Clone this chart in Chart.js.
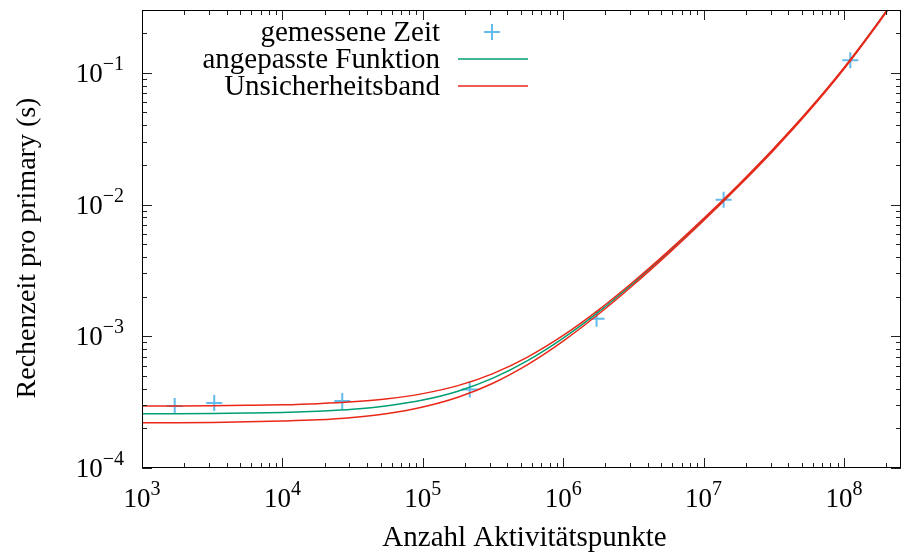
<!DOCTYPE html>
<html>
<head>
<meta charset="utf-8">
<script src="https://cdn.jsdelivr.net/npm/chart.js@4"></script>
<style>
    html, body { margin: 0; padding: 0; background: #fff; }
</style>
</head>
<body>
<canvas id="fitChart" width="911" height="556"></canvas>
<script>
// Measured runtime per primary against number of activity points
const measuredN = [1.71e3, 3.27e3, 2.67e4, 2.16e5, 1.73e6, 1.39e7, 1.11e8];
const measuredT = [2.95e-4, 3.11e-4, 3.22e-4, 3.94e-4, 1.36e-3, 1.09e-2, 0.1246];

// Fitted function and its uncertainty band, sampled every quarter decade
const curveN = [1e3, 1.78e3, 3.16e3, 5.62e3, 1e4, 1.78e4, 3.16e4, 5.62e4, 1e5, 1.78e5, 3.16e5, 5.62e5,
                1e6, 1.78e6, 3.16e6, 5.62e6, 1e7, 1.78e7, 3.16e7, 5.62e7, 1e8, 1.78e8, 2.1e8];
const fitT   = [2.58e-4, 2.58e-4, 2.59e-4, 2.61e-4, 2.64e-4, 2.70e-4, 2.79e-4, 2.97e-4, 3.28e-4, 3.83e-4, 4.81e-4, 6.56e-4,
                9.68e-4, 1.527e-3, 2.529e-3, 4.349e-3, 7.704e-3, 1.4036e-2, 2.6363e-2, 5.190e-2, 0.1077, 0.2456, 0.3150];
const upperT = [2.96e-4, 2.96e-4, 2.97e-4, 2.99e-4, 3.02e-4, 3.08e-4, 3.18e-4, 3.35e-4, 3.67e-4, 4.22e-4, 5.21e-4, 6.98e-4,
                1.014e-3, 1.580e-3, 2.592e-3, 4.432e-3, 7.822e-3, 1.4217e-2, 2.6654e-2, 5.2385e-2, 0.1095, 0.2470, 0.3167];
const lowerT = [2.21e-4, 2.21e-4, 2.22e-4, 2.24e-4, 2.27e-4, 2.32e-4, 2.42e-4, 2.59e-4, 2.90e-4, 3.44e-4, 4.40e-4, 6.12e-4,
                9.19e-4, 1.469e-3, 2.453e-3, 4.243e-3, 7.542e-3, 1.3770e-2, 2.5897e-2, 5.1028e-2, 0.1069, 0.2418, 0.3102];

// Decade exponents that get a labelled tick
const xTickExps = [3, 4, 5, 6, 7, 8];
const yTickExps = [-4, -3, -2, -1];

const xTitle = 'Anzahl Aktivitätspunkte';
const yTitle = 'Rechenzeit pro primary (s)';

const GREEN = '#009e73';
const RED = '#ea2718';
const BLUE = '#62bbeb';

const FONT = '"Liberation Serif", "Times New Roman", serif';

const zip = (xs, ys) => xs.map((x, i) => ({ x: x, y: ys[i] }));

function textWidth(ctx, s, size) {
    ctx.font = size + 'px ' + FONT;
    return ctx.measureText(s).width;
}

// left edge at x, baseline at y
function putText(ctx, s, x, y, size) {
    ctx.font = size + 'px ' + FONT;
    ctx.textAlign = 'left';
    ctx.textBaseline = 'alphabetic';
    ctx.fillText(s, x, y);
}

function putPower(ctx, exp, x, y, align) {
    const sup = exp < 0 ? '\u2212' + (-exp) : String(exp);
    const wb = textWidth(ctx, '10', 27);
    const we = textWidth(ctx, sup, 20);
    const left = align === 'center' ? x - (wb + we) / 2 : x - (wb + we);
    putText(ctx, '10', left, y, 27);
    putText(ctx, sup, left + wb, y - 12, 20);
}

// Border, inward ticks on all four sides, tick labels and axis titles
const framePlugin = {
    id: 'frame',
    afterDraw(chart) {
        const { ctx, chartArea: a, scales: { x, y } } = chart;
        ctx.save();
        ctx.strokeStyle = '#222';
        ctx.lineWidth = 1;
        ctx.beginPath();
        for (let e = 3; e <= 8; e++) {
            for (let m = 1; m <= 9; m++) {
                const v = m * Math.pow(10, e);
                if (v > x.max) break;
                const px = Math.round(x.getPixelForValue(v)) + 0.5;
                const len = m === 1 ? 10 : 5;
                ctx.moveTo(px, a.bottom); ctx.lineTo(px, a.bottom - len);
                ctx.moveTo(px, a.top); ctx.lineTo(px, a.top + len);
            }
        }
        for (let e = -4; e <= -1; e++) {
            for (let m = 1; m <= 9; m++) {
                const v = m * Math.pow(10, e);
                if (v > y.max * 1.0001) break;
                const py = Math.round(y.getPixelForValue(v)) + 0.5;
                const len = m === 1 ? 10 : 5;
                ctx.moveTo(a.left, py); ctx.lineTo(a.left + len, py);
                ctx.moveTo(a.right, py); ctx.lineTo(a.right - len, py);
            }
        }
        ctx.stroke();
        ctx.strokeStyle = '#000';
        ctx.strokeRect(a.left + 0.5, a.top + 0.5, a.right - a.left - 1, a.bottom - a.top - 1);

        ctx.fillStyle = '#000';
        xTickExps.forEach(e => putPower(ctx, e, x.getPixelForValue(Math.pow(10, e)), 507, 'center'));
        yTickExps.forEach(e => putPower(ctx, e, 124, y.getPixelForValue(Math.pow(10, e)) + 9, 'right'));

        const wx = textWidth(ctx, xTitle, 29);
        putText(ctx, xTitle, (a.left + a.right) / 2 - wx / 2 + 3, 546, 29);

        const wy = textWidth(ctx, yTitle, 28);
        ctx.save();
        ctx.translate(35, 248);
        ctx.rotate(-Math.PI / 2);
        putText(ctx, yTitle, -wy / 2, 0, 28);
        ctx.restore();
        ctx.restore();
    }
};

// Key in the upper left: text right-aligned, sample to its right
const keyPlugin = {
    id: 'key',
    afterDraw(chart) {
        const ctx = chart.ctx;
        const rows = [
            { text: 'gemessene Zeit', color: BLUE, cross: true, mid: 32 },
            { text: 'angepasste Funktion', color: GREEN, cross: false, mid: 59 },
            { text: 'Unsicherheitsband', color: RED, cross: false, mid: 86 }
        ];
        ctx.save();
        rows.forEach(r => {
            ctx.fillStyle = '#000';
            const w = textWidth(ctx, r.text, 29);
            putText(ctx, r.text, 440 - w, r.mid + 9, 29);
            ctx.strokeStyle = r.color;
            ctx.beginPath();
            if (r.cross) {
                ctx.lineWidth = 2;
                ctx.moveTo(484, r.mid); ctx.lineTo(500, r.mid);
                ctx.moveTo(492, r.mid - 8); ctx.lineTo(492, r.mid + 8);
            } else {
                ctx.lineWidth = 1.5;
                ctx.moveTo(458, r.mid); ctx.lineTo(528, r.mid);
            }
            ctx.stroke();
        });
        ctx.restore();
    }
};

const curveStyle = {
    borderWidth: 1.5,
    pointRadius: 0,
    fill: false,
    cubicInterpolationMode: 'monotone'
};

new Chart(document.getElementById('fitChart'), {
    type: 'line',
    data: {
        datasets: [
            { ...curveStyle, label: 'Unsicherheitsband', data: zip(curveN, upperT), borderColor: RED },
            { ...curveStyle, label: 'Unsicherheitsband unten', data: zip(curveN, lowerT), borderColor: RED },
            { ...curveStyle, label: 'angepasste Funktion', data: zip(curveN, fitT), borderColor: GREEN },
            {
                label: 'gemessene Zeit',
                data: zip(measuredN, measuredT),
                showLine: false,
                pointStyle: 'cross',
                pointRadius: 8,
                pointBorderWidth: 2,
                borderColor: BLUE,
                backgroundColor: BLUE
            }
        ]
    },
    options: {
        responsive: false,
        animation: false,
        devicePixelRatio: 1,
        layout: { padding: { left: 142, right: 1, top: 6, bottom: 88 } },
        plugins: { legend: { display: false }, tooltip: { enabled: false } },
        scales: {
            x: { type: 'logarithmic', min: 1e3, max: 2.55e8, display: false },
            y: { type: 'logarithmic', min: 1e-4, max: 0.3, display: false }
        }
    },
    plugins: [framePlugin, keyPlugin]
});
</script>
</body>
</html>
